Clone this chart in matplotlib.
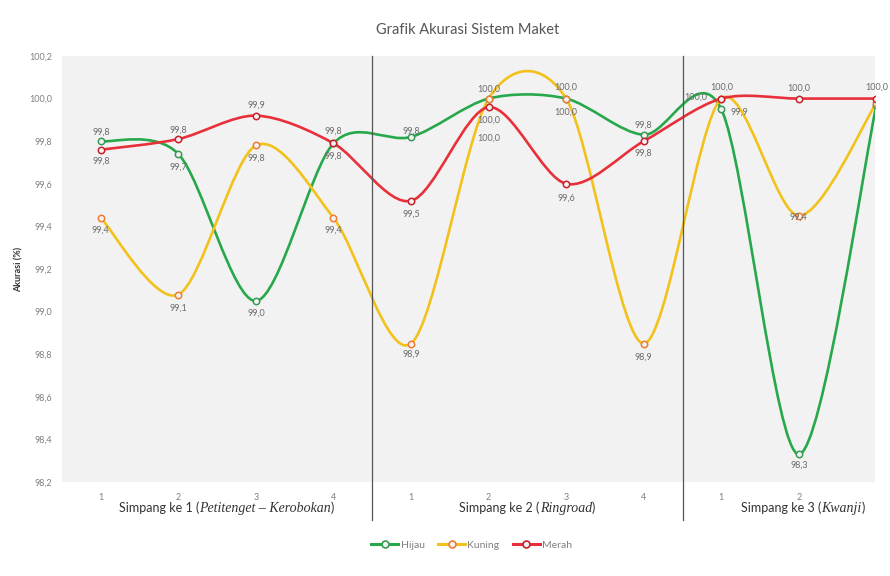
import numpy as np
import matplotlib
matplotlib.use("Agg")
import matplotlib.pyplot as plt
from matplotlib.path import Path
from matplotlib.patches import PathPatch
from matplotlib.lines import Line2D
from matplotlib.offsetbox import TextArea, HPacker, AnnotationBbox
import matplotlib.transforms as mtransforms

plt.rcParams['font.family'] = ['Lato', 'DejaVu Sans']

# data
tick_labels = ['1', '2', '3', '4', '1', '2', '3', '4', '1', '2', '3']
group_names = [("Simpang ke 1 (", "Petitenget \u2013 Kerobokan", ")"),
               ("Simpang ke 2 (", "Ringroad", ")"),
               ("Simpang ke 3 (", "Kwanji", ")")]
group_sizes = [4, 4, 3]
series_names = ['Hijau', 'Kuning', 'Merah']
hijau = [99.80, 99.74, 99.05, 99.79, 99.82, 100.0, 100.0, 99.83, 99.95, 98.33, 99.97]
kuning = [99.44, 99.08, 99.78, 99.44, 98.85, 100.0, 100.0, 98.85, 100.0, 99.45, 99.98]
merah = [99.76, 99.81, 99.92, 99.79, 99.52, 99.96, 99.60, 99.80, 100.0, 100.0, 100.0]
hijau_lbl = ['99,8', '99,7', '99,0', '99,8', '99,8', '100,0', '100,0', '99,8', '99,9', '98,3', None]
kuning_lbl = ['99,4', '99,1', '99,8', '99,4', '98,9', '100,0', '100,0', '98,9', '100,0', '99,4', None]
merah_lbl = ['99,8', '99,8', '99,9', '99,8', '99,5', '100,0', '99,6', '99,8', '100,0', '100,0', '100,0']

# label offsets in pixels (dx, dy) relative to marker
hijau_off = [(0, 9), (0, -13), (0, -12), (0, 12), (0, 6), (0, -40), (0, -14), (0, 10), (18, -3), (0, -11), None]
kuning_off = [(0, -12), (0, -14), (0, -13), (0, -12), (0, -11), (0, 9), (0, 11), (0, -14), (-26, 1), (0, -1), None]
merah_off = [(0, -11), (0, 9), (0, 10), (0, -13), (0, -13), (0, -13), (0, -14), (0, -12), (0, 11), (0, 10), (0, 11)]

line_cols = ['#27a84a', '#f2c21b', '#e8303a']
edge_cols = ['#3a9a55', '#ee7d31', '#c8202a']

x = np.arange(len(tick_labels))


def smooth_path(xs, ys, k=0.15):
    pts = np.column_stack([xs, ys]).astype(float)
    n = len(pts)
    verts = [pts[0]]
    codes = [Path.MOVETO]
    for i in range(n - 1):
        p0 = pts[i - 1] if i > 0 else pts[i]
        p1 = pts[i]
        p2 = pts[i + 1]
        p3 = pts[i + 2] if i + 2 < n else pts[i + 1]
        verts += [p1 + (p2 - p0) * k, p2 - (p3 - p1) * k, p2]
        codes += [Path.CURVE4] * 3
    return Path(verts, codes)


fig = plt.figure(figsize=(8.9, 5.76), dpi=100)
ax = fig.add_axes([0.0697, 0.1632, 0.9133, 0.7396])
ax.set_facecolor('#f2f2f2')

all_series = [hijau, kuning, merah]
all_lbl = [hijau_lbl, kuning_lbl, merah_lbl]
all_off = [hijau_off, kuning_off, merah_off]

for ys, lc, ec, lbls, offs in zip(all_series, line_cols, edge_cols, all_lbl, all_off):
    ax.add_patch(PathPatch(smooth_path(x, ys), fill=False, edgecolor=lc, lw=1.9, zorder=3))
    ax.plot(x, ys, ls='none', marker='o', ms=4.6, mfc='#f2f2f2', mec=ec, mew=1.1, zorder=4)
    for xi, yi, t, o in zip(x, ys, lbls, offs):
        if t is None:
            continue
        ax.annotate(t, (xi, yi), xytext=o, textcoords='offset pixels',
                    ha='center', va='center', fontsize=6.5, color='#6b6b6b',
                    annotation_clip=False, zorder=5)

ax.set_xlim(-0.5, 9.98)
ax.set_ylim(98.2, 100.2)
yt = np.arange(98.2, 100.21, 0.2)
ax.set_yticks(yt)
ax.set_yticklabels([f"{v:.1f}".replace('.', ',') for v in yt], fontsize=6.5, color='#808080')
ax.set_xticks(x[:-1])
ax.set_xticklabels(tick_labels[:-1], fontsize=6.5, color='#808080')
ax.tick_params(length=0, pad=8)
ax.tick_params(axis='y', pad=7)
for s in ax.spines.values():
    s.set_visible(False)

ax.set_ylabel('Akurasi (%)', fontsize=6.5, fontweight='bold', color='#333333', labelpad=4)
fig.text(0.525, 0.948, 'Grafik Akurasi Sistem Maket', ha='center', va='center',
         fontsize=10.5, color='#555555')

# separators and group labels
trans = mtransforms.blended_transform_factory(ax.transData, ax.transAxes)
edges = np.cumsum(group_sizes)[:-1] - 0.5
for e in edges:
    ax.add_line(Line2D([e, e], [1.0, -0.089], transform=trans, color='#555555',
                       lw=0.9, clip_on=False, zorder=6))

centers = [1.62, 5.5, 9.05]
for (a, b, c), cx in zip(group_names, centers):
    box = HPacker(children=[
        TextArea(a, textprops=dict(fontsize=9, color='#333333')),
        TextArea(b, textprops=dict(fontsize=10, color='#333333', family='Liberation Serif', style='italic')),
        TextArea(c, textprops=dict(fontsize=9, color='#333333')),
    ], pad=0, sep=0, align='baseline')
    ab = AnnotationBbox(box, (cx, -0.062), xycoords=trans, frameon=False,
                        box_alignment=(0.5, 0.5), annotation_clip=False)
    ax.add_artist(ab)

handles = [Line2D([], [], color=lc, lw=2.2, marker='o', ms=5, mfc='#f2f2f2', mec=ec, mew=1.2)
           for lc, ec in zip(line_cols, edge_cols)]
fig.legend(handles, series_names, loc='center', bbox_to_anchor=(0.53, 0.054), ncol=3,
           frameon=False, fontsize=7.5, handlelength=2.6, handletextpad=0.2,
           columnspacing=1.3, labelcolor='#808080')

fig.savefig('out.png', dpi=100, facecolor='white')
